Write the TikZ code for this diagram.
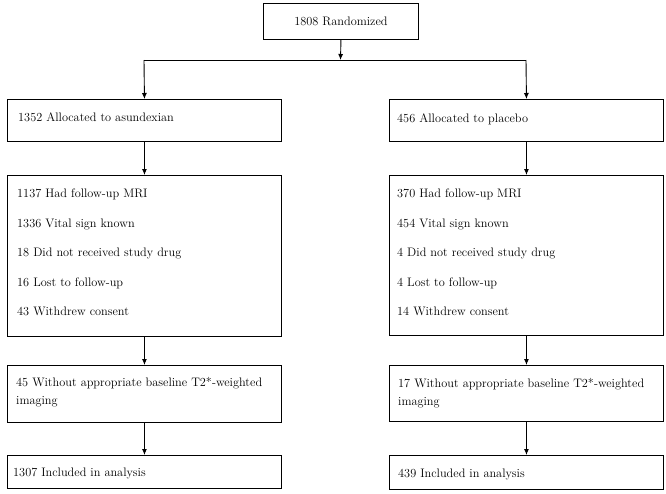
\documentclass[tikz,border=0pt]{standalone}
\usetikzlibrary{arrows.meta}
\begin{document}
\begin{tikzpicture}[x=1pt,y=-1pt,
  box/.style={draw=black,line width=0.9pt,inner sep=0pt,anchor=north west},
  txt/.style={anchor=base west,inner sep=0pt,font=\fontsize{12.3}{15}\selectfont},
  arr/.style={line width=0.9pt,-{Latex[length=6pt,width=5pt]}},
  ln/.style={line width=0.9pt}]
\useasboundingbox (0,0) rectangle (666,493);
% boxes
\node[box,minimum width=155pt,minimum height=36pt,font=\fontsize{12.3}{15}\selectfont] (top) at (263,3) {1808 Randomized};
\node[box,minimum width=274pt,minimum height=42pt] (A) at (7,99) {};
\node[box,minimum width=274pt,minimum height=42pt] (B) at (389,99) {};
\node[box,minimum width=274pt,minimum height=161pt] (C) at (7,175) {};
\node[box,minimum width=274pt,minimum height=160pt] (D) at (389,175) {};
\node[box,minimum width=274pt,minimum height=57pt] (E) at (7,365) {};
\node[box,minimum width=274pt,minimum height=56pt] (F) at (389,365) {};
\node[box,minimum width=274pt,minimum height=33pt] (G) at (7,455) {};
\node[box,minimum width=274pt,minimum height=34pt] (H) at (389,455) {};
% texts
\node[txt] (a1) at (18,121.5) {1352 Allocated to asundexian};
\node[txt] (b1) at (397,122.5) {456 Allocated to placebo};
\node[txt] (c1) at (17,197.5) {1137 Had follow-up MRI};
\node[txt] (c2) at (17,227) {1336 Vital sign known};
\node[txt] (c3) at (17,256.5) {18 Did not received study drug};
\node[txt] (c4) at (17,286) {16 Lost to follow-up};
\node[txt] (c5) at (17,315.5) {43 Withdrew consent};
\node[txt] (d1) at (397,197.5) {370 Had follow-up MRI};
\node[txt] (d2) at (397,227) {454 Vital sign known};
\node[txt] (d3) at (397,256.5) {4 Did not received study drug};
\node[txt] (d4) at (397,286) {4 Lost to follow-up};
\node[txt] (d5) at (397,315.5) {14 Withdrew consent};
\node[txt] (e1) at (16,386.5) {45 Without appropriate baseline T2*-weighted};
\node[txt] (e2) at (16,404.5) {imaging};
\node[txt] (f1) at (398,387.5) {17 Without appropriate baseline T2*-weighted};
\node[txt] (f2) at (398,405.5) {imaging};
\node[txt] (g1) at (13,476.5) {1307 Included in analysis};
\node[txt] (h1) at (398,477.5) {439 Included in analysis};
% connectors
\coordinate (split) at (340.5,60);
\coordinate (splitL) at (144,60);
\coordinate (splitR) at (526,60);
\draw[arr] (top.south) -- (split);
\draw[ln] (splitL) -- (splitR);
\draw[arr] (splitL) -- (A.north);
\draw[arr] (splitR) -- (B.north);
\draw[arr] (A.south) -- (C.north);
\draw[arr] (B.south) -- (D.north);
\draw[arr] (C.south) -- (E.north);
\draw[arr] (D.south) -- (F.north);
\draw[arr] (E.south) -- (G.north);
\draw[arr] (F.south) -- (H.north);
\end{tikzpicture}
\end{document}
